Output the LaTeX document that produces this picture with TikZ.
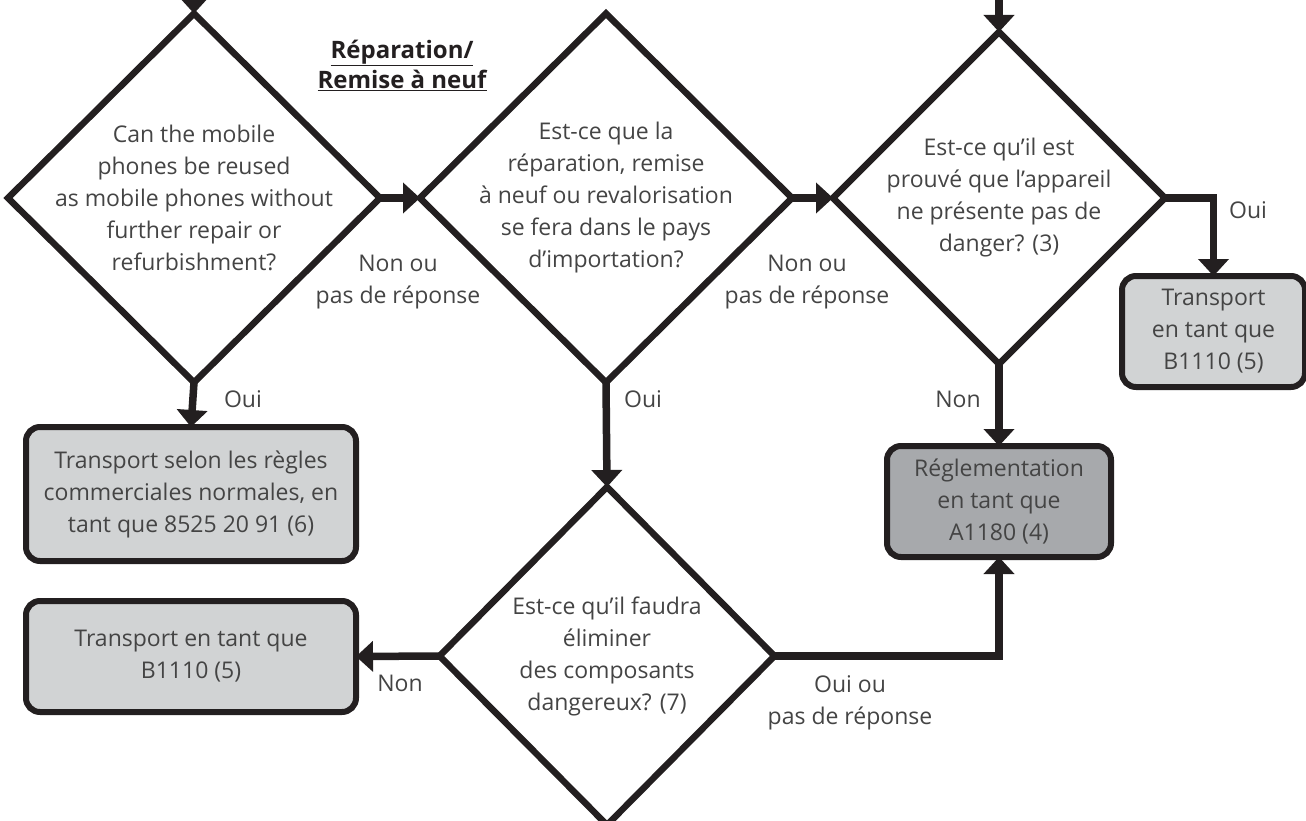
\documentclass[tikz,border=0pt]{standalone}
\usepackage{fontspec}
\setmainfont{Open Sans}
\usetikzlibrary{shapes.geometric,arrows.meta}
\definecolor{linegray}{HTML}{231F20}
\definecolor{textgray}{HTML}{444444}
\definecolor{boxlight}{HTML}{D1D3D4}
\definecolor{boxdark}{HTML}{A7A9AC}

\begin{document}
\begin{tikzpicture}[
        x=1pt, y=-1pt,
        font=\fontsize{23}{32}\selectfont,
        decision/.style={diamond, draw=linegray, line width=6.5pt, aspect=1, inner sep=-40pt, outer sep=0pt, align=center, text=textgray},
        outcome/.style={rectangle, draw=linegray, line width=6pt, rounded corners=14pt, fill=boxlight, align=center, text=textgray, inner sep=0pt, outer sep=0pt},
        lbl/.style={align=center, text=textgray},
        arrow/.style={draw=linegray, line width=7.5pt, -{Triangle[width=30pt,length=17pt]}}
    ]
        \useasboundingbox (0,0) rectangle (1306,821);

        % Decisions
        \node[decision, minimum width=372pt, minimum height=369pt] (reuse) at (194,198)
            {Can the mobile\\phones be reused\\as mobile phones without\\further repair or\\refurbishment?};
        \node[decision, minimum width=372pt, minimum height=369pt] (pays) at (606,198)
            {Est-ce que la\\réparation, remise\\à neuf ou revalorisation\\se fera dans le pays\\d’importation?};
        \node[decision, minimum width=332pt, minimum height=332pt] (danger) at (999,198)
            {Est-ce qu’il est\\prouvé que l’appareil\\ne présente pas de\\danger? (3)};
        \node[decision, minimum width=335pt, minimum height=338pt] (elim) at (607,656)
            {Est-ce qu’il faudra\\éliminer\\des composants\\dangereux? (7)};

        % Outcomes
        \node[outcome, minimum width=330pt, minimum height=134pt] (normal) at (191,494)
            {Transport selon les règles\\commerciales normales, en\\tant que 8525 20 91 (6)};
        \node[outcome, minimum width=330pt, minimum height=111pt] (bleft) at (191,656.5)
            {Transport en tant que\\B1110 (5)};
        \node[outcome, fill=boxdark, minimum width=224pt, minimum height=111pt] (regl) at (999,501.5)
            {Réglementation\\en tant que\\A1180 (4)};
        \node[outcome, minimum width=183pt, minimum height=111pt] (bright) at (1213.5,331.5)
            {Transport\\en tant que\\B1110 (5)};

        % Heading
        \node[align=center, text=linegray, font=\fontsize{24}{30}\selectfont\bfseries] (titre) at (402,65)
            {\underline{Réparation/}\\\underline{Remise à neuf}};

        % Labels
        \node[lbl] (nonA) at (398,282) {Non ou\\pas de réponse};
        \node[lbl] (nonB) at (807,282) {Non ou\\pas de réponse};
        \node[lbl] (ouiA) at (243,399) {Oui};
        \node[lbl] (ouiB) at (643,399) {Oui};
        \node[lbl] (ouiC) at (1248,210) {Oui};
        \node[lbl] (nonC) at (958,399) {Non};
        \node[lbl] (nonD) at (400,683) {Non};
        \node[lbl] (ouiD) at (850,703) {Oui ou\\pas de réponse};

        % Arrows
        \coordinate (in1) at (194,-30);
        \coordinate (in2) at (999,-30);
        \draw[arrow] (in1) -- (reuse.north);
        \draw[arrow] (in2) -- (danger.north);
        \draw[arrow] (reuse.east) -- (pays.west);
        \draw[arrow] (pays.east) -- (danger.west);
        \draw[arrow] (reuse.south) -- (normal.north);
        \draw[arrow] (pays.south) -- (elim.north);
        \draw[arrow] (danger.east) -| (bright.north);
        \draw[arrow] (danger.south) -- (regl.north);
        \draw[arrow] (elim.west) -- (bleft.east);
        \draw[arrow] (elim.east) -| (regl.south);

    \end{tikzpicture}
\end{document}
